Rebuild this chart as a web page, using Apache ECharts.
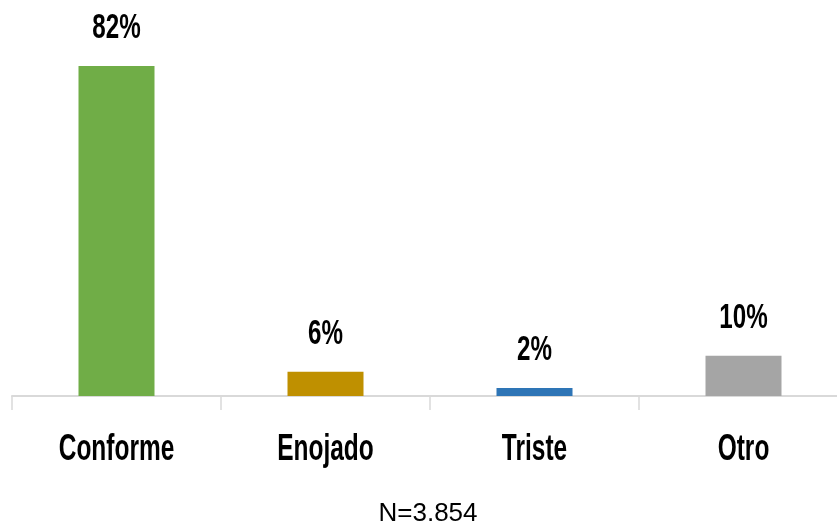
<!DOCTYPE html>
<html>
<head>
<meta charset="utf-8">
<script src="https://cdn.jsdelivr.net/npm/echarts@6/dist/echarts.min.js"></script>
<style>html,body{margin:0;padding:0;background:#fff}#c{width:837px;height:529px}</style>
</head>
<body>
<div id="c"></div>
<script>
const categories = ['Conforme', 'Enojado', 'Triste', 'Otro'];
const values = [82, 6, 2, 10];
const colors = ['#70ad47', '#bf9000', '#2e75b6', '#a5a5a5'];
const footnote = 'N=3.854';

const chart = echarts.init(document.getElementById('c'));
chart.setOption({
  animation: false,
  grid: { left: 12, width: 836, top: 66, bottom: 133, containLabel: false, outerBoundsMode: 'none' },
  xAxis: {
    type: 'category',
    data: categories,
    axisLine: { lineStyle: { color: '#d9d9d9', width: 2 } },
    axisTick: { show: true, length: 14, lineStyle: { color: '#d9d9d9', width: 1.5 } },
    axisLabel: { show: false }
  },
  yAxis: {
    type: 'value',
    min: 0,
    max: 82,
    show: false,
    splitLine: { show: false }
  },
  series: [{
    type: 'bar',
    barWidth: 76,
    data: values.map((v, i) => ({ value: v, itemStyle: { color: colors[i] } })),
    label: { show: false }
  }]
});

const fontBold = 'Liberation Sans';
const graphics = [];
categories.forEach((c, i) => {
  const base = chart.convertToPixel({ seriesIndex: 0 }, [i, 0]);
  const top = chart.convertToPixel({ seriesIndex: 0 }, [i, values[i]]);
  graphics.push({
    type: 'text', x: base[0], y: base[1] + 54, scaleX: 0.68,
    style: { text: c, fill: '#000', fontFamily: fontBold, fontWeight: 'bold', fontSize: 36, align: 'center', verticalAlign: 'middle' }
  });
  graphics.push({
    type: 'text', x: top[0], y: top[1] - 37.5, scaleX: 0.69,
    style: { text: values[i] + '%', fill: '#000', fontFamily: fontBold, fontWeight: 'bold', fontSize: 35, align: 'center', verticalAlign: 'middle' }
  });
});
graphics.push({
  type: 'text', x: 428, y: 514,
  style: { text: footnote, fill: '#000', fontFamily: 'Liberation Sans', fontSize: 26, align: 'center', verticalAlign: 'middle' }
});
chart.setOption({ graphic: graphics });
</script>
</body>
</html>
